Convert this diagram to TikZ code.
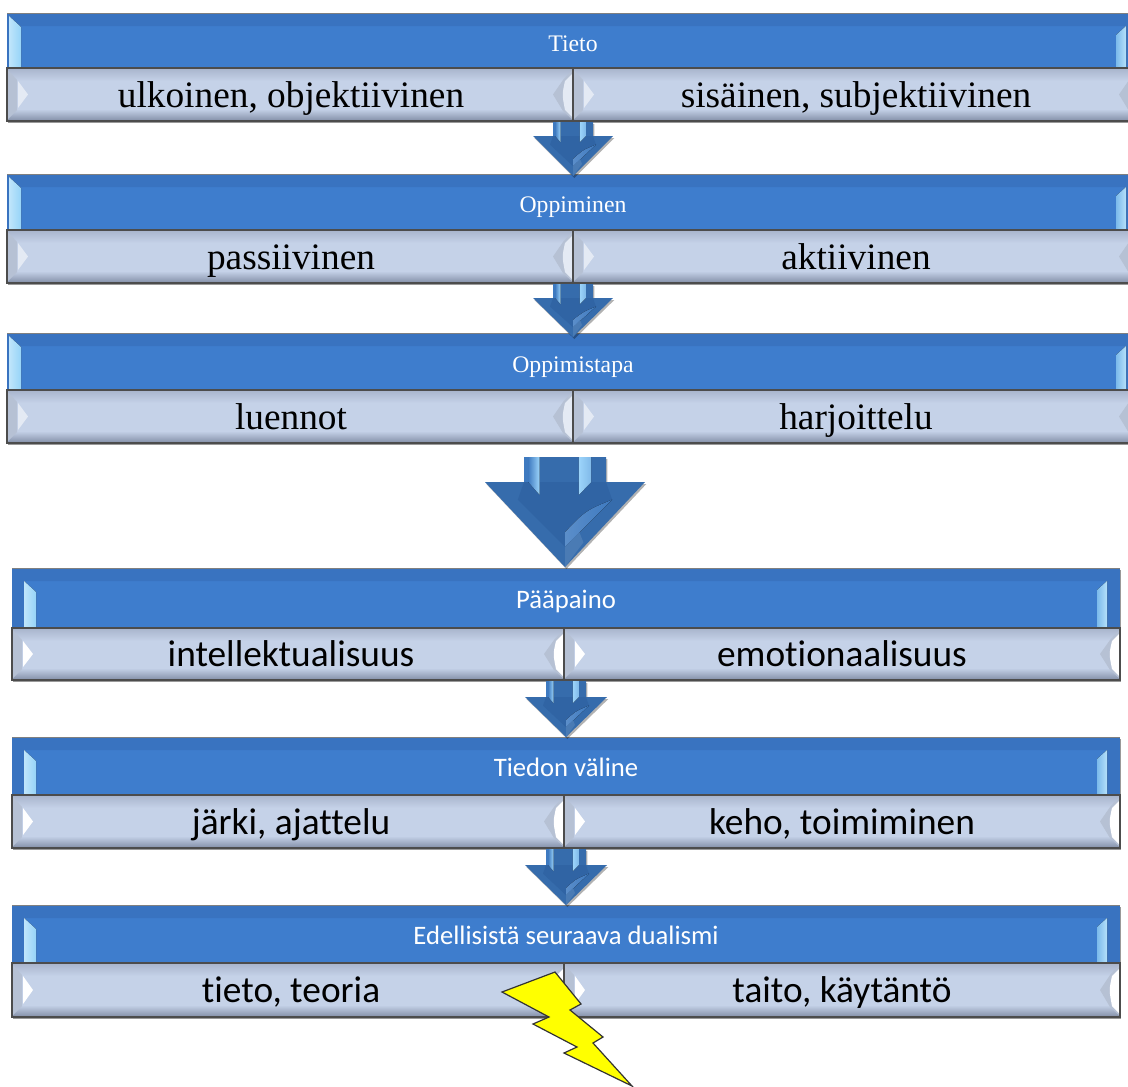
\documentclass[tikz,border=0pt]{standalone}
\usepackage{fontspec}
\usepackage{tikz}
\usetikzlibrary{shadows}
\setmainfont{Liberation Serif}
\newfontfamily\carlitofont[Ligatures=NoCommon]{Carlito}

\definecolor{headblue}{RGB}{62,125,205}
\definecolor{headtop}{RGB}{57,115,192}
\definecolor{sliverblue}{RGB}{150,212,248}
\definecolor{subfill}{RGB}{197,210,232}
\definecolor{subtop}{RGB}{168,180,204}
\definecolor{subbottom}{RGB}{130,142,166}
\definecolor{subpale}{RGB}{228,234,244}
\definecolor{subgray}{RGB}{182,193,212}
\definecolor{arrowdark}{RGB}{54,108,172}
\definecolor{arrowinner}{RGB}{48,100,164}
\definecolor{arrowmid}{RGB}{62,122,192}
\definecolor{arrowlight}{RGB}{156,212,250}
\definecolor{boltyellow}{RGB}{255,255,0}

\tikzset{
  headtext/.style={text=white,font=\headfont,anchor=base},
  subtext/.style={text=black,font=\subfont,anchor=base},
  boxline/.style={draw=black!70,line width=0.9pt},
  boxshadow/.style={drop shadow={shadow xshift=1pt,shadow yshift=-1.5pt,opacity=0.4,fill=black}},
  arrowshade/.style={drop shadow={shadow xshift=1pt,shadow yshift=-1.5pt,opacity=0.3,fill=black}},
}

% name, top, middle, bottom, header, left text, right text
\newcommand{\dualrow}[7]{
  \fill [boxshadow,white] (\xl,#2) rectangle (\xr,#4);
  % header
  \fill [headblue] (\xl,#2) rectangle (\xr,#3);
  \fill [headtop] (\xl,#2) -- (\xr,#2) -- ({\xr-13},{#2+13}) -- ({\xl+13},{#2+13}) -- cycle;
  \fill [headtop] (\xl,#2) rectangle ({\xl+\slin},#3);
  \fill [headtop] (\xr,#2) rectangle ({\xr-13},#3);
  \fill [left color=sliverblue!60!white,right color=sliverblue] ({\xl+\slin},{#2+\slin+1}) -- ({\xl+\slin+12},{#2+\slin+12}) -- ({\xl+\slin+12},#3) -- ({\xl+\slin},#3) -- cycle;
  \fill [left color=sliverblue!70!headblue,right color=sliverblue!70!white] ({\xr-23},{#2+22}) -- ({\xr-13},{#2+13}) -- ({\xr-13},#3) -- ({\xr-23},#3) -- cycle;
  \draw [gray] (\xl,#2) -- (\xr,#2);
  % lower part
  \fill [subfill] (\xl,#3) rectangle (\xr,#4);
  \fill [top color=subtop,bottom color=subfill] (\xl,#3) rectangle (\xr,{#3+13});
  \fill [top color=subfill,bottom color=subbottom] (\xl,{#4-12}) rectangle (\xr,#4);
  \foreach \xb in {\xl,\xm}{
    \fill [subgray] (\xb,{#3+1}) -- ({\xb+10},{#3+12}) -- ({\xb+10},{#4-11}) -- (\xb,{#4-1}) -- cycle;
    \fill [\palefill] ({\xb+11},{#3+13}) -- ({\xb+21},{(#3+#4)/2}) -- ({\xb+11},{#4-13}) -- cycle;
  }
  \foreach \xb in {\xm,\xr}{
    \fill [subgray] (\xb,{#3+1}) -- ({\xb-10},{#3+12}) -- ({\xb-20},{(#3+#4)/2}) -- ({\xb-10},{#4-10}) -- (\xb,{#4-1}) -- cycle;
    \fill [\palefill] ({\xb-8},{#3+13}) .. controls ({\xb-11},{(#3+#4)/2}) .. ({\xb-8},{#4-11}) -- ({\xb-1},{#4-4}) -- ({\xb-1},{#3+6}) -- cycle;
  }
  \draw [boxline] (\xl,#3) rectangle (\xr,#4);
  \draw [boxline] (\xm,#3) -- (\xm,#4);
  % texts
  \node (#1head) at ({(\xl+\xr)/2},{(#2+#3)/2+10.5}) [headtext] {#5};
  \node (#1left) at ({(\xl+\xm)/2+\tshift},{(#3+#4)/2+12.5}) [subtext] {#6};
  \node (#1right) at ({(\xm+\xr)/2},{(#3+#4)/2+12.5}) [subtext] {#7};
}

% centre, top, wing line, tip, half shaft, half wing
\newcommand{\blockarrow}[6]{
  \fill [arrowshade,arrowdark] ({#1-#5},#2) -- ({#1+#5},#2) -- ({#1+#5},#3) -- ({#1+#6},#3) -- (#1,#4) -- ({#1-#6},#3) -- ({#1-#5},#3) -- cycle;
  % inner chevron
  \fill [arrowinner] ({#1-1.15*#5},{#3+0.43*#5}) -- ({#1-#5},#3) -- ({#1+#5},#3) -- ({#1+1.15*#5},{#3+0.43*#5}) -- (#1,{#4-0.49*#5}) -- cycle;
  % shaft strips
  \fill [arrowmid] ({#1-#5},#2) rectangle ({#1-0.9*#5},#3);
  \fill [left color=arrowmid,right color=arrowlight] ({#1-0.9*#5},#2) -- ({#1-0.62*#5},#2) -- ({#1-0.62*#5},{#3+0.31*#5}) -- ({#1-0.9*#5},#3) -- cycle;
  \fill [left color=arrowlight,right color=arrowlight!70!arrowmid] ({#1+0.34*#5},#2) -- ({#1+0.64*#5},#2) -- ({#1+0.64*#5},#3) -- ({#1+0.34*#5},{#3+0.31*#5}) -- cycle;
  % highlight on the head
  \fill [left color=arrowmid!85!white,right color=arrowmid] (#1,{#4-0.49*#5}) -- (#1,{#4-0.85*#5}) .. controls ({#1+0.5*#5},{#3+0.7*#5}) .. ({#1+1.15*#5},{#3+0.43*#5}) -- cycle;
  \fill [arrowdark!90!white] (#1,{#4-0.49*#5}) -- (#1,#4) -- ({#1+0.45*#5},{#4-0.6*#5}) -- ({#1+0.35*#5},{#4-0.85*#5}) -- cycle;
}

\begin{document}
\begin{tikzpicture}[x=0.75pt,y=0.75pt,yscale=-1]
\useasboundingbox (0,0) rectangle (1128,1086);

%Upper rows
\def\xl{7}\def\xm{573}\def\xr{1139}
\def\slin{2}\def\tshift{1}\def\palefill{subpale}
\def\headfont{\fontsize{17.8}{20}\selectfont}
\def\subfont{\fontsize{28}{30}\selectfont}
\dualrow{tieto}{13}{68}{121}{Tieto}{ulkoinen, objektiivinen}{sisäinen, subjektiivinen}
\dualrow{oppiminen}{174}{230}{283}{Oppiminen}{passiivinen}{aktiivinen}
\dualrow{oppimistapa}{333}{390}{443}{Oppimistapa}{luennot}{harjoittelu}

%Lower rows
\def\xl{12}\def\xm{564}\def\xr{1120}
\def\slin{12}\def\tshift{3}\def\palefill{white}
\def\headfont{\carlitofont\fontsize{20}{22}\selectfont}
\def\subfont{\carlitofont\fontsize{28}{30}\selectfont}
\dualrow{paapaino}{568}{628}{680}{Pääpaino}{intellektualisuus}{emotionaalisuus}
\dualrow{valine}{737}{795}{848}{Tiedon väline}{järki, ajattelu}{keho, toimiminen}
\dualrow{dualismi}{905}{963}{1017}{Edellisistä seuraava dualismi}{tieto, teoria}{taito, käytäntö}

%Block arrows
\blockarrow{573}{122}{136}{176}{20}{40}
\blockarrow{573}{284}{298}{337}{20}{40}
\blockarrow{565}{457}{482}{567}{41}{80}
\blockarrow{566}{681}{697}{737}{20}{41}
\blockarrow{566}{849}{865}{905}{20}{41}

%Lightning bolt
\draw [fill=boltyellow,draw=black!80,line width=0.9pt,line join=miter] (555,972) -- (502,992) -- (549,1017) -- (533,1024) -- (577,1047) -- (564,1053) -- (632,1086) -- (593,1043) -- (603,1037) -- (570,1010) -- (581,1004) -- cycle;
\end{tikzpicture}
\end{document}
